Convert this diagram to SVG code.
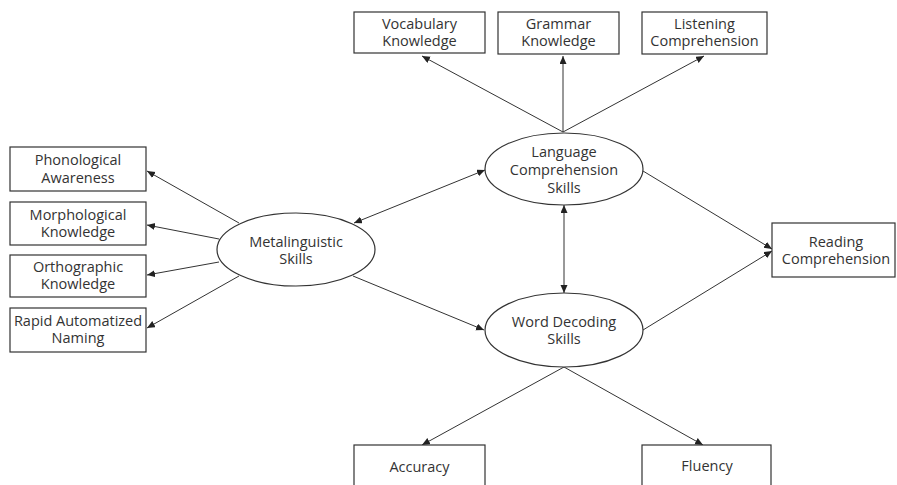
<svg xmlns="http://www.w3.org/2000/svg" width="897" height="485" viewBox="0 0 897 485">
<style>
  .box { fill: #fff; stroke: #333; stroke-width: 1.2; }
  .ell { fill: #fff; stroke: #333; stroke-width: 1.2; }
  .lbl { font-family: "Open Sans", "Noto Sans", "Liberation Sans", sans-serif; font-size: 14.5px; fill: #333; text-anchor: middle; }
  .edge { fill: none; stroke: #333; stroke-width: 1; marker-end: url(#arr); }
  .both { marker-start: url(#arr); }
</style>
<defs>
  <marker id="arr" markerUnits="userSpaceOnUse" markerWidth="9" markerHeight="8" refX="8" refY="3.5" orient="auto-start-reverse">
    <path d="M0,0 L8,3.5 L0,7 z" fill="#222"/>
  </marker>
</defs>
<rect width="897" height="485" fill="#fff"/>
<g id="connectors">
  <line class="edge" x1="563" y1="132" x2="422" y2="56"/>
  <line class="edge" x1="563" y1="132" x2="563" y2="56"/>
  <line class="edge" x1="563" y1="132" x2="704" y2="56"/>
  <line class="edge" x1="239" y1="223" x2="147" y2="171"/>
  <line class="edge" x1="219" y1="239" x2="147" y2="225"/>
  <line class="edge" x1="219" y1="262" x2="147" y2="275"/>
  <line class="edge" x1="239" y1="276" x2="147" y2="328"/>
  <line class="edge both" x1="354" y1="223" x2="485" y2="170"/>
  <line class="edge" x1="353" y1="276" x2="484" y2="330"/>
  <line class="edge both" x1="564" y1="205" x2="564" y2="293"/>
  <line class="edge" x1="643" y1="171" x2="772" y2="249"/>
  <line class="edge" x1="643" y1="330" x2="772" y2="251"/>
  <line class="edge" x1="564" y1="367" x2="422" y2="445"/>
  <line class="edge" x1="564" y1="367" x2="703" y2="445"/>
</g>
<g id="vocabulary">
  <rect class="box" x="354" y="12" width="131" height="41"/>
  <text class="lbl" x="419.5" y="29">Vocabulary</text>
  <text class="lbl" x="419.5" y="46">Knowledge</text>
</g>
<g id="grammar">
  <rect class="box" x="498" y="12" width="121" height="42"/>
  <text class="lbl" x="558.5" y="29">Grammar</text>
  <text class="lbl" x="558.5" y="46">Knowledge</text>
</g>
<g id="listening">
  <rect class="box" x="642" y="12" width="125" height="42"/>
  <text class="lbl" x="704.5" y="29">Listening</text>
  <text class="lbl" x="704.5" y="46">Comprehension</text>
</g>
<g id="phonological">
  <rect class="box" x="10" y="147" width="136" height="44"/>
  <text class="lbl" x="78" y="165">Phonological</text>
  <text class="lbl" x="78" y="183">Awareness</text>
</g>
<g id="morphological">
  <rect class="box" x="10" y="202" width="136" height="43"/>
  <text class="lbl" x="78" y="220">Morphological</text>
  <text class="lbl" x="78" y="237">Knowledge</text>
</g>
<g id="orthographic">
  <rect class="box" x="10" y="255" width="136" height="42"/>
  <text class="lbl" x="78" y="272">Orthographic</text>
  <text class="lbl" x="78" y="289">Knowledge</text>
</g>
<g id="rapid">
  <rect class="box" x="10" y="308" width="136" height="44"/>
  <text class="lbl" x="78" y="326">Rapid Automatized</text>
  <text class="lbl" x="78" y="343">Naming</text>
</g>
<g id="metalinguistic">
  <ellipse class="ell" cx="296" cy="249.5" rx="79" ry="36.5"/>
  <text class="lbl" x="296" y="247">Metalinguistic</text>
  <text class="lbl" x="296" y="264">Skills</text>
</g>
<g id="language">
  <ellipse class="ell" cx="564" cy="169" rx="79" ry="36"/>
  <text class="lbl" x="564" y="157">Language</text>
  <text class="lbl" x="564" y="175">Comprehension</text>
  <text class="lbl" x="564" y="193">Skills</text>
</g>
<g id="worddecoding">
  <ellipse class="ell" cx="564" cy="330" rx="79" ry="37"/>
  <text class="lbl" x="564" y="327">Word Decoding</text>
  <text class="lbl" x="564" y="344">Skills</text>
</g>
<g id="reading">
  <rect class="box" x="772" y="223" width="123" height="54"/>
  <text class="lbl" x="836" y="247">Reading</text>
  <text class="lbl" x="836" y="264">Comprehension</text>
</g>
<g id="accuracy">
  <rect class="box" x="354" y="445" width="131" height="45"/>
  <text class="lbl" x="419.5" y="472">Accuracy</text>
</g>
<g id="fluency">
  <rect class="box" x="642" y="445" width="129" height="45"/>
  <text class="lbl" x="707" y="471">Fluency</text>
</g>
</svg>
